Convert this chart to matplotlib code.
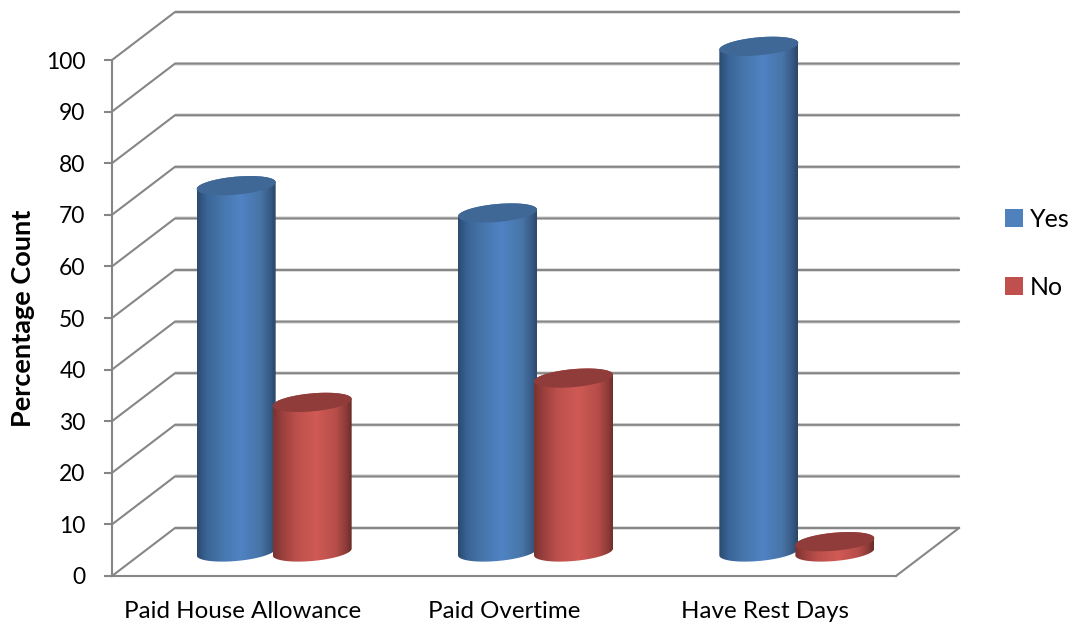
import numpy as np
from matplotlib import pyplot as plt
from matplotlib.colors import LinearSegmentedColormap
from matplotlib.patches import PathPatch, Patch
from matplotlib.path import Path

plt.rcParams['font.family'] = ['Lato', 'DejaVu Sans']

categories = ['Paid House Allowance', 'Paid Overtime', 'Have Rest Days']
yes_vals = [71, 65.7, 98]
no_vals = [29, 33.7, 2]
y_ticks = [0, 10, 20, 30, 40, 50, 60, 70, 80, 90, 100]

GRID = '#868686'
blue_cmap = LinearSegmentedColormap.from_list('blue', [(0, '#2b4a70'), (0.12, '#3a6496'), (0.3, '#4675aa'),
                                                      (0.55, '#5083c4'), (0.8, '#4875a8'), (0.93, '#375a85'), (1, '#2a4568')])
red_cmap = LinearSegmentedColormap.from_list('red', [(0, '#7b3331'), (0.12, '#9a403d'), (0.3, '#bd504c'),
                                                    (0.55, '#d05a55'), (0.8, '#b64d49'), (0.93, '#8c3b38'), (1, '#6a2a28')])
blue_top, red_top = '#3f6897', '#8f3c3a'

fig = plt.figure(figsize=(10.73, 6.24), dpi=100)
ax = fig.add_axes([112/1073, 48/624, 784/1073, 516/624])
ax.set_facecolor('none')

# px per data unit, used to turn the fake 3d depth into data units
sx, sy = 784/3, 5.16
depth_x, depth_y = 63/sx, 48/sy
half_w, ell_b, ell_s = 39.5/sx, 9/sy, 3.4/sy
bar_off = 38/sx

# back wall and floor
for v in y_ticks:
    xs = [-0.5, -0.5+depth_x, 2.5+depth_x]
    ys = [v, v+depth_y, v+depth_y]
    ax.plot(xs[1:], [ys[1], ys[2]], color='#e2e2e2', lw=2.8, clip_on=False, zorder=1, solid_capstyle='butt')
    ax.plot(xs, ys, color=GRID, lw=1.5, clip_on=False, zorder=2)
ax.plot([2.5, 2.5+depth_x], [0, depth_y], color=GRID, lw=1.5, clip_on=False, zorder=2)


def cylinder(cx, val, cmap, top_col, z):
    base = depth_y/2
    t1 = np.linspace(np.pi, 2*np.pi, 40)
    t2 = np.linspace(0, np.pi, 40)
    lx = cx + half_w*np.cos(t1)
    ly = base + ell_s*np.cos(t1) + ell_b*np.sin(t1)
    ux = cx + half_w*np.cos(t2)
    uy = base + val + ell_s*np.cos(t2) + ell_b*np.sin(t2)
    verts = np.vstack([np.column_stack([lx, ly]), np.column_stack([ux, uy]), [lx[0], ly[0]]])
    body = PathPatch(Path(verts, closed=True), transform=ax.transData, lw=0)
    grad = np.linspace(0, 1, 256).reshape(1, -1)
    im = ax.imshow(grad, cmap=cmap, aspect='auto', interpolation='bilinear', zorder=z,
                   extent=[cx-half_w, cx+half_w, base-2*ell_b, base+val+2*ell_b])
    im.set_clip_box(fig.bbox)  # tall bar pokes above the axes
    im.set_clip_path(body)
    t = np.linspace(0, 2*np.pi, 80)
    ax.fill(cx + half_w*np.cos(t), base + val + ell_s*np.cos(t) + ell_b*np.sin(t),
            color=top_col, lw=0, clip_on=False, zorder=z+0.5)


for i in range(len(categories)):
    mid = i + depth_x/2
    cylinder(mid-bar_off, yes_vals[i], blue_cmap, blue_top, 3+i*2)
    cylinder(mid+bar_off, no_vals[i], red_cmap, red_top, 4+i*2)

ax.set_xlim(-0.5, 2.5)
ax.set_ylim(0, 100)
ax.set_xticks(range(3), categories)
ax.set_yticks(y_ticks)
ax.tick_params(axis='x', length=0, pad=18, labelsize=17.4, labelcolor='black')
ax.tick_params(axis='y', length=6, width=1.5, color=GRID, pad=13, labelsize=16.5, labelcolor='black')
for s in ['top', 'right']:
    ax.spines[s].set_visible(False)
for s in ['left', 'bottom']:
    ax.spines[s].set_color(GRID)
    ax.spines[s].set_linewidth(1.5)
    ax.spines[s].set_zorder(2)
ax.set_ylabel('Percentage Count', fontsize=19.5, fontweight='bold')
ax.yaxis.set_label_coords((35-112)/784, 0.5)

handles = [Patch(color='#4f81bd', lw=0), Patch(color='#c0504d', lw=0)]
ax.legend(handles, ['Yes', 'No'], loc='center left', bbox_to_anchor=(1005/1073, 0.5945),
          bbox_transform=fig.transFigure, frameon=False, fontsize=18, handlelength=0.7, handleheight=0.7,
          handletextpad=0.3, labelspacing=1.8, borderpad=0, borderaxespad=0)

fig.savefig('out.png', dpi=100)
